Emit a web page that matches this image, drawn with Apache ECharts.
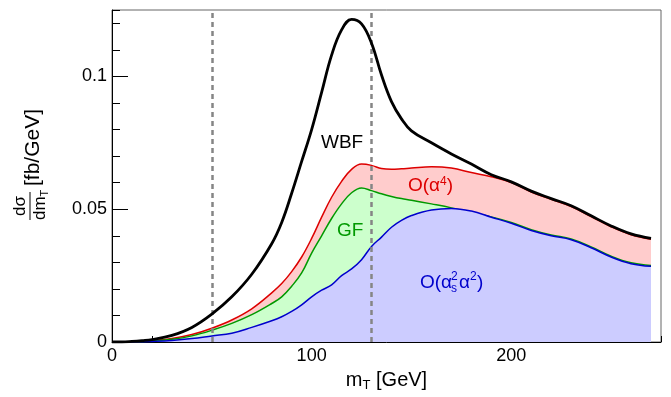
<!DOCTYPE html>
<html>
<head>
<meta charset="utf-8">
<script src="https://cdn.jsdelivr.net/npm/echarts@6/dist/echarts.min.js"></script>
<style>
  html, body { margin: 0; padding: 0; background: #fff; }
  #chart { width: 671px; height: 397px; }
</style>
</head>
<body>
<div id="chart"></div>
<script>
// m_T bins (GeV)
const mT = [0, 5, 10, 15, 20, 30, 40, 50, 60, 70, 80, 85, 90, 95, 100, 105, 110, 115, 120, 125,
  130, 135, 140, 145, 150, 160, 170, 180, 190, 200, 210, 220, 230, 240, 250, 260, 270]

// dsigma/dmT [fb/GeV]
const wbf = [0, 0, 0.0002, 0.0005, 0.0009, 0.0025, 0.0055, 0.0105, 0.017, 0.0255,
  0.037, 0.045, 0.056, 0.068, 0.080, 0.094, 0.108, 0.1175, 0.1215, 0.1198,
  0.1125, 0.1005, 0.0905, 0.084, 0.0795, 0.075, 0.0708, 0.067, 0.063, 0.0603,
  0.0568, 0.054, 0.0513, 0.0475, 0.0437, 0.0407, 0.039]
const alpha4 = [0, 0, 0.0001, 0.0003, 0.0005, 0.0013, 0.0028, 0.0052, 0.0083, 0.0125,
  0.0185, 0.022, 0.0265, 0.032, 0.039, 0.047, 0.0545, 0.0605, 0.065, 0.067,
  0.0665, 0.0653, 0.065, 0.0652, 0.0655, 0.066, 0.0655, 0.0638, 0.0622, 0.0600,
  0.0565, 0.0537, 0.051, 0.0472, 0.0434, 0.0404, 0.0387]
const gf = [0, 0, 0.0001, 0.0002, 0.0004, 0.001, 0.0023, 0.0044, 0.007, 0.0103,
  0.0145, 0.017, 0.021, 0.026, 0.0335, 0.040, 0.0465, 0.052, 0.0562, 0.058,
  0.057, 0.0558, 0.0548, 0.054, 0.0534, 0.052, 0.0505, 0.0487, 0.0471, 0.0450,
  0.0423, 0.0403, 0.0388, 0.0358, 0.0323, 0.0298, 0.0288]
const qcd = [0, 0, 0, 0.0001, 0.0002, 0.0006, 0.0013, 0.0023, 0.0033, 0.0055,
  0.008, 0.0095, 0.0115, 0.014, 0.017, 0.0195, 0.0215, 0.025, 0.0275, 0.031,
  0.036, 0.0395, 0.0432, 0.0458, 0.0476, 0.0497, 0.0503, 0.0493, 0.047, 0.0447,
  0.042, 0.040, 0.0385, 0.0355, 0.032, 0.0295, 0.0285]

// vertical cut lines (GeV)
const cuts = [50, 130]

const FONT = '"Liberation Sans", Arial, Helvetica, sans-serif'
const pairs = ys => mT.map((x, i) => [x, ys[i]])

const chart = echarts.init(document.getElementById('chart'))

function areaSeries(name, ys, line, fill, z) {
  return {
    name: name,
    type: 'line',
    data: pairs(ys),
    smooth: 0.4,
    symbol: 'none',
    z: z,
    lineStyle: { color: line, width: 1.5 },
    areaStyle: { color: fill, opacity: 1 }
  }
}

function label(x, y, text, font, color) {
  return {
    type: 'text', x: x, y: y, z: 10,
    style: {
      text: text, font: font + 'px ' + FONT, fill: color,
      align: 'left', verticalAlign: 'middle', textAlign: 'left', textVerticalAlign: 'middle'
    }
  }
}

chart.setOption({
  animation: false,
  grid: {
    left: 112, right: 10, top: 10, bottom: 52,
    show: true, borderColor: '#666', borderWidth: 1, backgroundColor: 'transparent'
  },
  xAxis: [
    {
      type: 'value', min: 0, max: 275, interval: 100, position: 'bottom',
      axisLine: { lineStyle: { color: '#000', width: 1 } },
      axisTick: { inside: true, length: 12, lineStyle: { color: '#000' } },
      axisLabel: { color: '#000', fontSize: 18, fontFamily: FONT, margin: 5, showMaxLabel: false },
      splitLine: { show: false },
      name: '{a|m}{s|T}{a| [GeV]}',
      nameLocation: 'middle',
      nameGap: 27,
      nameTextStyle: {
        rich: {
          a: { fontSize: 20, fontFamily: FONT, color: '#000' },
          s: { fontSize: 13, fontFamily: FONT, color: '#000', padding: [10, 0, 0, 0] }
        }
      }
    },
    {
      type: 'value', min: 0, max: 275, interval: 20, position: 'bottom',
      axisLine: { show: false },
      axisTick: { inside: true, length: 6, lineStyle: { color: '#000' } },
      axisLabel: { show: false },
      splitLine: { show: false }
    }
  ],
  yAxis: [
    {
      type: 'value', min: 0, max: 0.125, interval: 0.05, position: 'left',
      axisLine: { show: true, lineStyle: { color: '#000', width: 1 } },
      axisTick: { show: true, inside: true, length: 16, lineStyle: { color: '#000' } },
      axisLabel: { color: '#000', fontSize: 18, fontFamily: FONT, margin: 5, showMaxLabel: false },
      splitLine: { show: false }
    },
    {
      type: 'value', min: 0, max: 0.125, interval: 0.01, position: 'left',
      axisLine: { show: false },
      axisTick: { show: true, inside: true, length: 8, lineStyle: { color: '#000' } },
      axisLabel: { show: false },
      splitLine: { show: false }
    }
  ],
  series: [
    areaSeries('O(a4)', alpha4, '#dd0000', '#ffcccc', 2),
    areaSeries('GF', gf, '#009900', '#ccffcc', 3),
    areaSeries('O(as2a2)', qcd, '#0000cc', '#ccccff', 4),
    {
      name: 'WBF',
      type: 'line',
      data: pairs(wbf),
      smooth: 0.4,
      symbol: 'none',
      z: 5,
      lineStyle: { color: '#000', width: 2.8 },
      markLine: {
        silent: true,
        symbol: 'none',
        label: { show: false },
        lineStyle: { color: '#858585', width: 2.5, type: [5, 4] },
        data: cuts.map(c => ({ xAxis: c }))
      }
    }
  ],
  graphic: [
    // y axis title: dsigma/dmT [fb/GeV]
    {
      type: 'group', x: 30, y: 206, rotation: Math.PI / 2,
      children: [
        { type: 'text', x: 0, y: -1, style: { text: 'dσ', font: '17px ' + FONT, fill: '#000', align: 'center', verticalAlign: 'bottom', textAlign: 'center', textVerticalAlign: 'bottom' } },
        { type: 'line', shape: { x1: -14, y1: 0, x2: 14, y2: 0 }, style: { stroke: '#000', lineWidth: 1 } },
        { type: 'text', x: -14, y: 1, style: {
          text: '{a|dm}{s|T}', align: 'left', verticalAlign: 'top', textAlign: 'left', textVerticalAlign: 'top',
          rich: {
            a: { fontSize: 17, fontFamily: FONT, fill: '#000', color: '#000' },
            s: { fontSize: 11, fontFamily: FONT, fill: '#000', color: '#000', padding: [8, 0, 0, 0] }
          }
        } },
        { type: 'text', x: 20, y: 3, style: { text: '[fb/GeV]', font: '21px ' + FONT, fill: '#000', align: 'left', verticalAlign: 'middle', textAlign: 'left', textVerticalAlign: 'middle' } }
      ]
    },
    label(321, 143, 'WBF', 19, '#000'),
    label(337, 231, 'GF', 19, '#009900'),
    {
      type: 'text', x: 408, y: 186, z: 10, style: {
        text: '{n|O(α}{p|4}{n|)}', align: 'left', verticalAlign: 'middle', textAlign: 'left', textVerticalAlign: 'middle',
        rich: {
          n: { fontSize: 19, fontFamily: FONT, fill: '#dd0000', color: '#dd0000' },
          p: { fontSize: 12, fontFamily: FONT, fill: '#dd0000', color: '#dd0000', padding: [0, 0, 9, 0] }
        }
      }
    },
    // O(alpha_s^2 alpha^2)
    label(420, 283, 'O(α', 19, '#0000cc'),
    label(451, 277, '2', 12, '#0000cc'),
    label(451, 289, 's', 12, '#0000cc'),
    label(459, 283, 'α', 19, '#0000cc'),
    label(470, 277, '2', 12, '#0000cc'),
    label(477, 283, ')', 19, '#0000cc')
  ]
})
</script>
</body>
</html>
